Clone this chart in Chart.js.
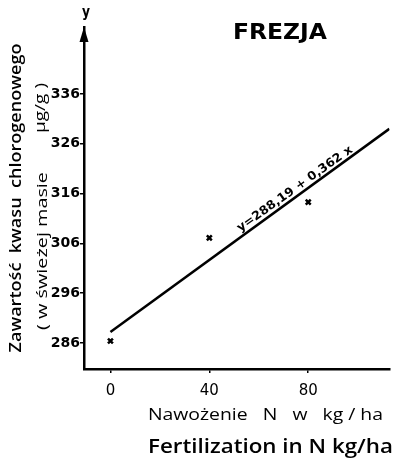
<!DOCTYPE html>
<html>
<head>
<meta charset="utf-8">
<script src="https://cdn.jsdelivr.net/npm/chart.js@4"></script>
<style>
  html, body { margin: 0; padding: 0; background: #fff; }
  #wrap { width: 396px; height: 459px; position: relative; }
</style>
</head>
<body>
<div id="wrap"><canvas id="frezja"></canvas></div>
<script>
// measured points: N dose (kg/ha) vs chlorogenic acid (ug/g fresh mass)
var doses = [0, 40, 80];
var content = [286.4, 307.1, 314.3];

// regression line y = 288.19 + 0.362x, drawn from 0 to the right edge
var lineX = [0, 112.8];
var lineY = [288.19, 329.0];

var xTicks = [0, 40, 80];
var yTicks = [286, 296, 306, 316, 326, 336];

// draws a text squeezed/stretched to a given width
function fitText(c, text, cx, cy, angle, font, width) {
  c.save();
  c.font = font;
  var w = c.measureText(text).width;
  c.translate(cx, cy);
  c.rotate(angle);
  c.scale(width / w, 1);
  c.textAlign = 'center';
  c.textBaseline = 'middle';
  c.fillStyle = '#000';
  c.fillText(text, 0, 0);
  c.restore();
}

var decor = {
  id: 'decor',
  afterDraw: function (chart) {
    var c = chart.ctx;
    var a = chart.chartArea;
    // arrow on y axis
    c.save();
    c.fillStyle = '#000';
    c.beginPath();
    c.moveTo(a.left, a.top);
    c.lineTo(a.left - 4.5, a.top + 15);
    c.lineTo(a.left + 4.5, a.top + 15);
    c.closePath();
    c.fill();
    c.restore();

    fitText(c, 'y', a.left + 2, 13, 0, 'bold 15px "DejaVu Sans"', 8);
    fitText(c, 'FREZJA', 280, 33, 0, 'bold 22px "DejaVu Sans"', 94);
    fitText(c, 'Zawartość  kwasu  chlorogenowego', 16, 198, -Math.PI / 2, '600 17px "Open Sans"', 309);
    fitText(c, '( w świeżej masie', 43, 251, -Math.PI / 2, '500 15px "Open Sans"', 158);
    fitText(c, 'μg/g )', 41, 108, -Math.PI / 2, '500 15px "Open Sans"', 50);
    fitText(c, 'Nawożenie   N   w   kg / ha', 265.5, 415, 0, '500 16px "Open Sans"', 235);
    fitText(c, 'Fertilization in N kg/ha', 270.5, 447, 0, '600 20px "Open Sans"', 245);
    fitText(c, 'y=288,19 + 0,362 x', 295, 189, -Math.atan(0.714), 'bold 12px "DejaVu Sans"', 139);
  }
};

var ctx = document.getElementById('frezja').getContext('2d');
var chart = new Chart(ctx, {
  type: 'scatter',
  data: {
    datasets: [{
      label: 'pomiary',
      data: doses.map(function (d, i) { return { x: d, y: content[i] }; }),
      pointStyle: 'crossRot',
      pointRadius: 3.5,
      borderWidth: 2.5,
      borderColor: '#000',
      backgroundColor: '#000'
    }, {
      type: 'line',
      label: 'regresja',
      data: lineX.map(function (d, i) { return { x: d, y: lineY[i] }; }),
      showLine: true,
      borderColor: '#000',
      borderWidth: 2.5,
      pointRadius: 0,
      fill: false
    }]
  },
  options: {
    responsive: true,
    maintainAspectRatio: false,
    animation: false,
    layout: { padding: { top: 27, right: 0, left: 0, bottom: 0 } },
    plugins: { legend: { display: false }, tooltip: { enabled: false } },
    scales: {
      x: {
        type: 'linear',
        min: -10.69,
        max: 112.87,
        afterBuildTicks: function (s) { s.ticks = xTicks.map(function (v) { return { value: v }; }); },
        afterFit: function (s) { s.height = 90; },
        grid: { drawOnChartArea: false, drawTicks: true, tickLength: 4, color: '#000', lineWidth: 1.5 },
        border: { color: '#000', width: 2.5 },
        ticks: { color: '#000', font: { family: 'DejaVu Sans', size: 15, weight: '500' }, padding: 9, maxRotation: 0 }
      },
      y: {
        type: 'linear',
        min: 280.78,
        max: 349.45,
        afterBuildTicks: function (s) { s.ticks = yTicks.map(function (v) { return { value: v }; }); },
        afterFit: function (s) { s.width = 84; },
        grid: { drawOnChartArea: false, drawTicks: true, tickLength: 4, color: '#000', lineWidth: 1.5 },
        border: { color: '#000', width: 2.5 },
        ticks: { color: '#000', font: { family: 'DejaVu Sans', size: 14, weight: 'bold' }, padding: 0 }
      }
    }
  },
  plugins: [decor]
});
</script>
</body>
</html>
